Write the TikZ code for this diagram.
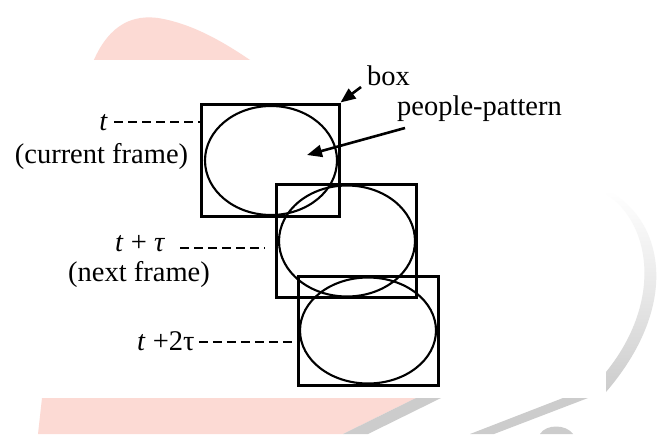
\documentclass[tikz,border=0pt]{standalone}
\usepackage{fontspec}
\setmainfont{Liberation Serif}
\usetikzlibrary{shapes.geometric,arrows.meta}
\definecolor{wmpink}{RGB}{252,218,212}
\definecolor{wmgray}{RGB}{204,204,204}
\begin{document}
\begin{tikzpicture}[x=1pt,y=-1pt,
  framebox/.style={draw=black,line width=3pt,rectangle,inner sep=0pt},
  pattern/.style={draw=black,line width=2.1pt,ellipse,inner sep=0pt},
  lbl/.style={inner sep=0pt,font=\fontsize{28.5}{34}\selectfont},
  leader/.style={draw=black,line width=2.4pt,dash pattern=on 9pt off 5pt},
  pointer/.style={draw=black,line width=2.6pt,-{Triangle[length=15pt,width=12pt]}}]
% canvas
\fill[white] (0,0) rectangle (661,434);
\useasboundingbox (0,0) rectangle (661,434);
% watermark
\fill[wmpink] (93,62) .. controls (110,22) and (135,15) .. (158,18)
  .. controls (195,24) and (228,45) .. (253,62) -- cycle;
\fill[wmpink] (42,398) -- (416,398) -- (343,434) -- (38,434) -- cycle;
\fill[wmgray] (416,398) -- (441,398) -- (368,434) -- (343,434) -- cycle;
\fill[wmgray] (563,398) -- (588,398) -- (494,434) -- (470,434) -- cycle;
\fill[wmgray] (540,434) .. controls (546,424) and (566,424) .. (573,434) -- cycle;
\shade[top color=white,bottom color=wmgray,middle color=wmgray!45]
  (606,190) .. controls (660,215) and (685,300) .. (606,392)
  -- (606,372) .. controls (664,300) and (650,222) .. (606,194) -- cycle;
\fill[white] (0,60) rectangle (606,398);
% boxes and people-patterns
\node[framebox,minimum width=138pt,minimum height=112pt] (b1) at (270,160) {};
\node[framebox,minimum width=140pt,minimum height=113pt] (b2) at (346,240.5) {};
\node[framebox,minimum width=140pt,minimum height=109pt] (b3) at (368,330.5) {};
\node[pattern,minimum width=132pt,minimum height=109pt] (e1) at (271,160.5) {};
\node[pattern,minimum width=136pt,minimum height=111pt] (e2) at (347,241) {};
\node[pattern,minimum width=136pt,minimum height=106pt] (e3) at (368,330.5) {};
% frame labels
\node[lbl,anchor=base east] (lt) at (108,130) {\textit{t}};
\node[lbl,anchor=base] (lcf) at (101.5,163) {(current frame)};
\node[lbl,anchor=base west] (ltt) at (115,251) {\textit{t} + \textit{τ}};
\node[lbl,anchor=base] (lnf) at (139,281) {(next frame)};
\node[lbl,anchor=base west] (l2t) at (137,350) {\textit{t} +2τ};
\coordinate (d1) at ([shift={(6,-8)}]lt.base east);
\coordinate (d2) at ([shift={(15,-3)}]ltt.base east);
\coordinate (d3) at ([shift={(4,-8)}]l2t.base east);
\coordinate (d1e) at (d1 -| b1.west);
\coordinate (d2e) at (d2 -| b2.west);
\coordinate (d3e) at (d3 -| b3.west);
\draw[leader] (d1) -- (d1e);
\draw[leader] (d2) -- ([xshift=-10pt]d2e);
\draw[leader] (d3) -- ([xshift=-4pt]d3e);
% callouts
\node[lbl,anchor=base west] (lbox) at (367,85) {box};
\node[lbl,anchor=base west] (lpp) at (397,115) {people-pattern};
\coordinate (abox) at (361,87);
\coordinate (app) at (405,128);
\coordinate (tpp) at (307,155);
\draw[pointer] (abox) -- (b1.north east);
\draw[pointer] (app) -- (tpp);
\end{tikzpicture}
\end{document}
